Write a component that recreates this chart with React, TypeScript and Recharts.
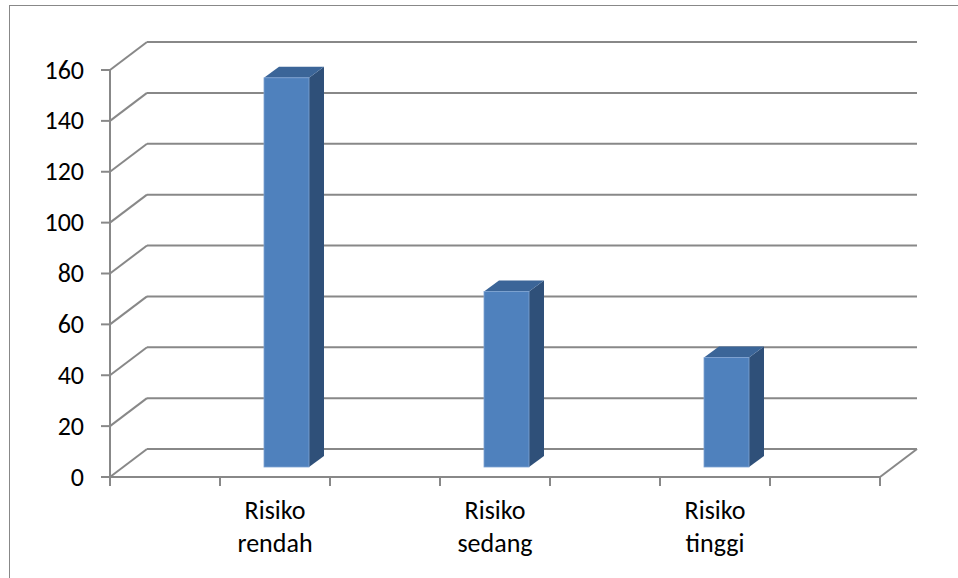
import React from 'react';
import { BarChart, Bar, XAxis, YAxis, CartesianGrid } from 'recharts';

const categories = ['Risiko rendah', 'Risiko sedang', 'Risiko tinggi'];
const values = [153, 69, 43];
const yTicks = [0, 20, 40, 60, 80, 100, 120, 140, 160];

const data = categories.map((name, i) => ({ name, value: values[i] }));

const FONT = 'Carlito, Calibri, Lato, sans-serif';
const FONT_SIZE = 26;
const LINE = '#888888';

// 3d depth of the wall/floor and of the bars
const WALL_DX = 37;
const WALL_DY = -28;
const BAR_DX = 11;
const BAR_DY = -10;
const SIDE_DX = 15;
const SIDE_DY = -11;
const HALF_STEP = 55;

function WallLine(props: any) {
  const { x1, y1, x2 } = props;
  return (
    <g>
      <line x1={x1} y1={y1} x2={x1 + WALL_DX} y2={y1 + WALL_DY} stroke={LINE} strokeWidth={2} />
      <line x1={x1 + WALL_DX} y1={y1 + WALL_DY} x2={x2 + WALL_DX} y2={y1 + WALL_DY} stroke={LINE} strokeWidth={2} />
    </g>
  );
}

function YTick(props: any) {
  const { y, payload } = props;
  const axisX = 110;
  return (
    <g>
      <line x1={axisX - 9} y1={y} x2={axisX} y2={y} stroke={LINE} strokeWidth={2} />
      <text x={84} y={y} dy="0.33em" textAnchor="end" fontSize={FONT_SIZE} fontFamily={FONT} fill="#000">
        {payload.value}
      </text>
    </g>
  );
}

function XTick(props: any) {
  const { x, payload, index } = props;
  const axisY = 477;
  const [l1, l2] = String(payload.value).split(' ');
  const marks = [x - HALF_STEP, x + HALF_STEP];
  if (index === 0) marks.push(x - 3 * HALF_STEP);
  if (index === categories.length - 1) marks.push(x + 3 * HALF_STEP);
  return (
    <g>
      {marks.map((mx, i) => (
        <line key={i} x1={mx} y1={axisY} x2={mx} y2={axisY + 9} stroke={LINE} strokeWidth={2} />
      ))}
      {index === categories.length - 1 && (
        <line
          x1={x + 3 * HALF_STEP}
          y1={axisY}
          x2={x + 3 * HALF_STEP + WALL_DX}
          y2={axisY + WALL_DY}
          stroke={LINE}
          strokeWidth={2}
        />
      )}
      <text textAnchor="middle" fontSize={FONT_SIZE} fontFamily={FONT} fill="#000">
        <tspan x={x} y={519}>{l1}</tspan>
        <tspan x={x} y={552}>{l2}</tspan>
      </text>
    </g>
  );
}

function Bar3D(props: any) {
  const { x, y, width, height } = props;
  const fx = x + BAR_DX;
  const fy = y + BAR_DY;
  const top = `${fx},${fy} ${fx + SIDE_DX},${fy + SIDE_DY} ${fx + width + SIDE_DX},${fy + SIDE_DY} ${fx + width},${fy}`;
  const side = `${fx + width},${fy} ${fx + width + SIDE_DX},${fy + SIDE_DY} ${fx + width + SIDE_DX},${fy + height + SIDE_DY} ${fx + width},${fy + height}`;
  return (
    <g>
      <polygon points={side} fill="#2F5079" />
      <polygon points={top} fill="#3B6598" />
      <rect x={fx} y={fy} width={width} height={height} fill="#4F81BD" stroke="#7EA3D3" strokeWidth={0.8} />
    </g>
  );
}

export default function App() {
  return (
    <div style={{ position: 'absolute', left: 0, top: 0, width: 958, height: 578, overflow: 'hidden', background: '#fff' }}>
      <div
        style={{
          position: 'absolute',
          left: 9,
          top: 5,
          width: 1000,
          height: 1000,
          borderLeft: '1px solid #888',
          borderTop: '1px solid #888',
        }}
      />
      <div style={{ position: 'absolute', left: 0, top: 0 }}>
        <BarChart width={958} height={578} data={data} margin={{ top: 70, right: 78, left: 0, bottom: 0 }}>
          <CartesianGrid vertical={false} horizontal={(p: any) => <WallLine key={p.key} {...p} />} />
          <YAxis
            width={110}
            domain={[0, 160]}
            ticks={yTicks}
            interval={0}
            axisLine={{ stroke: LINE, strokeWidth: 2 }}
            tickLine={false}
            tick={<YTick />}
          />
          <XAxis
            dataKey="name"
            height={101}
            padding={{ left: HALF_STEP, right: HALF_STEP }}
            axisLine={{ stroke: LINE, strokeWidth: 2 }}
            tickLine={false}
            interval={0}
            tick={<XTick />}
          />
          <Bar dataKey="value" barSize={45} isAnimationActive={false} shape={<Bar3D />} />
        </BarChart>
      </div>
    </div>
  );
}
